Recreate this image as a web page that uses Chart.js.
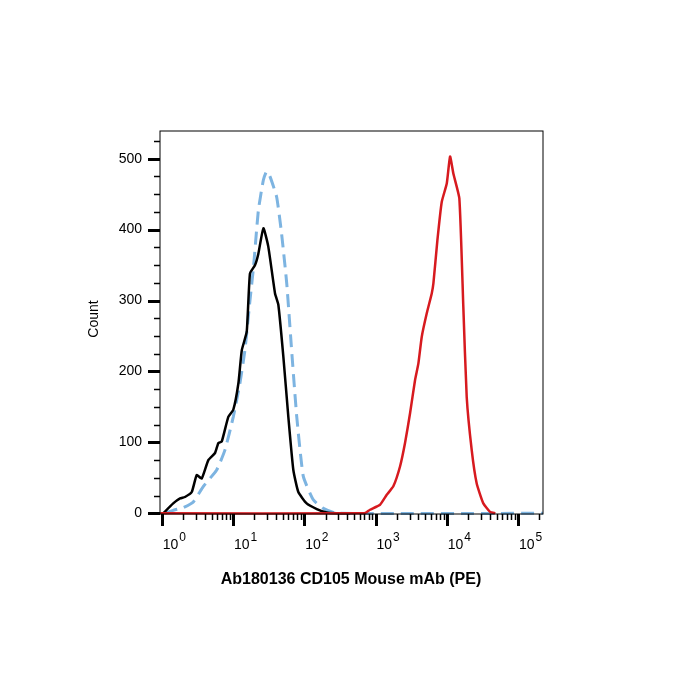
<!DOCTYPE html>
<html>
<head>
<meta charset="utf-8">
<script src="https://cdn.jsdelivr.net/npm/chart.js@4/dist/chart.umd.min.js"></script>
<style>
	body { margin: 0; background: #fff; }
	#wrap { width: 700px; height: 700px; }
</style>
</head>
<body>
<div id="wrap"><canvas id="histo" width="700" height="700"></canvas></div>
<script>
// fluorescence values (PE) and event counts
let blackX = [1.05, 1.45, 1.81, 2.12, 2.64, 3.10, 3.64, 4.51, 5.60, 6.23, 6.95, 8.60, 10.1, 11.9, 13.3, 15.6, 17.3, 20.4, 22.7, 26.7, 31.3, 38.9, 43.3, 50.9, 59.8, 70.3, 82.6, 108, 150, 207, 286, 440];
let blackY = [0, 14, 21, 23, 30, 54, 49, 75, 85, 99, 101, 136, 146, 183, 230, 256, 338, 350, 366, 402, 376, 310, 294, 221, 136, 61, 30, 14, 6, 1, 0, 0];

let blueX = [1.11, 1.54, 2.0, 2.78, 3.84, 5.9, 7.7, 10.1, 12.5, 14.7, 17.3, 19.4, 22.7, 26.7, 29.6, 33, 41, 48, 56.8, 66.5, 78.5, 97, 134, 185, 286, 224000];
let blueY = [0, 5, 8, 16, 38, 61, 89, 136, 183, 230, 300, 347, 427, 470, 482, 475, 446, 395, 324, 230, 136, 52, 19, 7, 0, 0];

let redX = [0.95, 700, 838, 1157, 1437, 1778, 2208, 2595, 3053, 3589, 3993, 4457, 5238, 6152, 6490, 7387, 8497, 10000, 11120, 12370, 15010, 17070, 19040, 22390, 26300, 32580, 40460, 48000];
let redY = [0, 0, 5, 12, 26, 38, 66, 99, 141, 188, 211, 249, 282, 310, 324, 385, 439, 465, 503, 479, 444, 291, 164, 89, 42, 14, 2, 0];

let yMajor = [0, 100, 200, 300, 400, 500];
let xDecades = [0, 1, 2, 3, 4, 5];
let xTitle = "Ab180136 CD105 Mouse mAb (PE)";
let yTitle = "Count";

const FONT = "'Liberation Sans', Arial, sans-serif";

function toPts(xs, ys) {
	let pts = [];
	xs.forEach(function (x, i) { pts.push({ x: x, y: ys[i] }); });
	return pts;
}

// frame, tick marks and labels drawn against the chart's own scales
const axesPlugin = {
	id: 'flowAxes',
	afterDraw(chart) {
		const ctx = chart.ctx;
		const a = chart.chartArea;
		const xs = chart.scales.x;
		const ys = chart.scales.y;
		ctx.save();
		ctx.strokeStyle = '#000';
		ctx.fillStyle = '#000';
		ctx.lineWidth = 1;
		ctx.strokeRect(a.left, a.top, a.right - a.left, a.bottom - a.top);

		// y ticks
		for (let v = 0; v <= ys.max; v += 25) {
			let py = Math.round(ys.getPixelForValue(v)) + 0.5;
			let major = yMajor.indexOf(v) >= 0;
			ctx.lineWidth = major ? 3 : 1.5;
			ctx.beginPath();
			ctx.moveTo(a.left - (major ? 12 : 6), py);
			ctx.lineTo(a.left, py);
			ctx.stroke();
		}
		ctx.font = '14px ' + FONT;
		ctx.textAlign = 'right';
		ctx.textBaseline = 'middle';
		yMajor.forEach(function (v) {
			ctx.fillText(String(v), a.left - 18, ys.getPixelForValue(v));
		});

		// x ticks (log decades + minors)
		xDecades.forEach(function (d) {
			for (let m = 1; m <= 9; m++) {
				let val = m * Math.pow(10, d);
				if (val > xs.max) break;
				let px = Math.round(xs.getPixelForValue(val)) + 0.5;
				let major = m === 1;
				ctx.lineWidth = major ? 3 : 1.5;
				ctx.beginPath();
				ctx.moveTo(px, a.bottom);
				ctx.lineTo(px, a.bottom + (major ? 12 : 6));
				ctx.stroke();
			}
		});
		ctx.textAlign = 'left';
		ctx.textBaseline = 'alphabetic';
		xDecades.forEach(function (d) {
			let px = xs.getPixelForValue(Math.pow(10, d));
			ctx.font = '14px ' + FONT;
			ctx.fillText('10', px + 1, 549);
			let w = ctx.measureText('10').width;
			ctx.font = '12px ' + FONT;
			ctx.fillText(String(d), px + 2 + w, 541);
		});

		// titles
		ctx.font = 'bold 16px ' + FONT;
		ctx.textAlign = 'center';
		ctx.textBaseline = 'middle';
		ctx.fillText(xTitle, 351, 580);
		ctx.font = '14px ' + FONT;
		ctx.translate(94, 319);
		ctx.rotate(-Math.PI / 2);
		ctx.fillText(yTitle, 0, 0);
		ctx.restore();
	}
};

let ctx = document.getElementById('histo').getContext('2d');
let chart = new Chart(ctx, {
	type: 'line',
	data: {
		datasets: [{
			label: 'CD105',
			data: toPts(redX, redY),
			borderColor: '#d71a1f',
			borderWidth: 2.5,
			pointRadius: 0,
			tension: 0.15,
			order: 0
		}, {
			label: 'Unstained',
			data: toPts(blackX, blackY),
			borderColor: '#000000',
			borderWidth: 2.5,
			pointRadius: 0,
			tension: 0.15,
			order: 1
		}, {
			label: 'Isotype',
			data: toPts(blueX, blueY),
			borderColor: '#7db4e1',
			borderWidth: 3,
			borderDash: [13, 7],
			pointRadius: 0,
			tension: 0.15,
			order: 2
		}]
	},
	options: {
		responsive: false,
		animation: false,
		clip: false,
		layout: { padding: { left: 160, right: 157, top: 131, bottom: 186 } },
		plugins: {
			legend: { display: false },
			tooltip: { enabled: false }
		},
		scales: {
			x: { type: 'logarithmic', min: 0.946, max: 224000, display: false },
			y: { type: 'linear', min: -1, max: 539, display: false }
		}
	},
	plugins: [axesPlugin]
});
</script>
</body>
</html>
